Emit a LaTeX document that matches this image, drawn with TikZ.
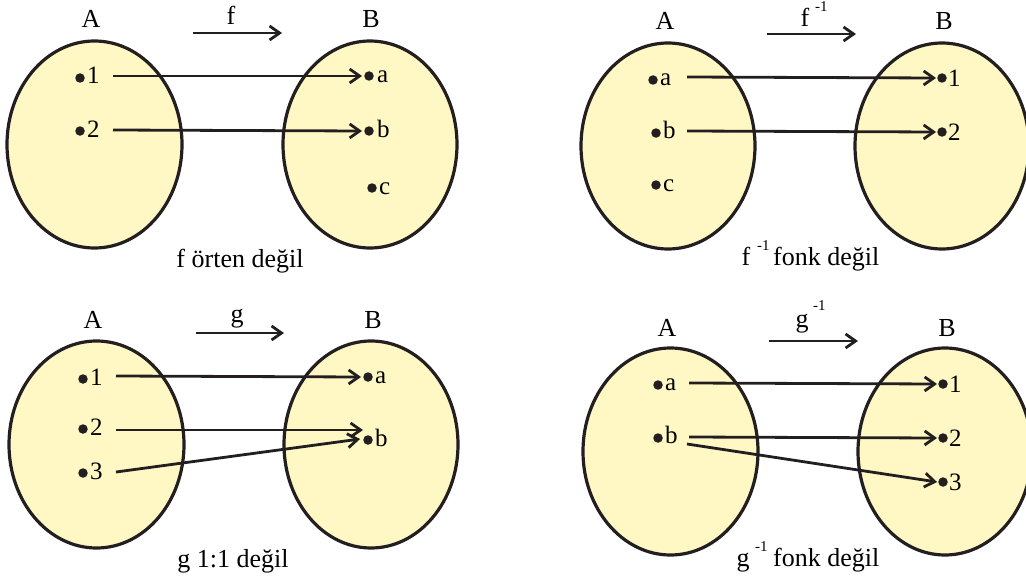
\documentclass[tikz,border=0pt]{standalone}
\usepackage{fontspec}
\setmainfont{Liberation Serif}
\usetikzlibrary{arrows.meta}
\definecolor{setfill}{RGB}{255,248,196}
\definecolor{ink}{RGB}{35,31,32}
\tikzset{
  setell/.style={draw=ink, line width=3.2pt, fill=setfill},
  pt/.style={circle, fill=ink, inner sep=0pt, minimum size=9.5pt},
  lbl/.style={anchor=base west, inner sep=1pt, font=\fontsize{25}{28}\selectfont},
  ttl/.style={inner sep=0pt, anchor=base, font=\fontsize{26}{30}\selectfont},
  sup/.style={inner sep=0pt, anchor=base west, font=\fontsize{15}{17}\selectfont},
  arr/.style={draw=ink, line width=2.8pt, -{Straight Barb[length=10pt,width=14pt,line width=2.8pt]}},
}
\begin{document}
\begin{tikzpicture}[x=1pt,y=-1pt]
\useasboundingbox (0,0) rectangle (1026,578);
% ---------- Panel 1 ----------
\draw[setell] (94.5,144.5) ellipse [x radius=87.5, y radius=103.5];
\draw[setell] (370,144.5) ellipse [x radius=87, y radius=103.5];
\node[ttl] (p1A) at (91,28) {A};
\node[ttl] (p1B) at (371,28) {B};
\node[ttl] (p1f) at (231,25) {f};
\coordinate (p1s) at (193,33);
\coordinate (p1e) at (282,33);
\draw[arr] (p1s) -- (p1e);
\node[pt] (p1d1) at (80,78) {};
\node[lbl] (p1l1) at (86,84) {1};
\node[pt] (p1d2) at (80,131) {};
\node[lbl] (p1l2) at (86,137) {2};
\node[pt] (p1da) at (369,76) {};
\node[lbl] (p1la) at (376,82) {a};
\node[pt] (p1db) at (369,131) {};
\node[lbl] (p1lb) at (376,137) {b};
\node[pt] (p1dc) at (372,188) {};
\node[lbl] (p1lc) at (378,194) {c};
\coordinate (p1o1) at (113,76);
\coordinate (p1o2) at (113,130);
\draw[arr] (p1o1) -- ([xshift=-2pt]p1da.west);
\draw[arr] (p1o2) -- ([xshift=-2pt]p1db.west);
\node[ttl] (p1cap) at (240,267) {f örten değil};
% ---------- Panel 2 ----------
\draw[setell] (668,146) ellipse [x radius=87, y radius=103];
\draw[setell] (942,146) ellipse [x radius=87, y radius=103];
\node[ttl] (p2A) at (665,30) {A};
\node[ttl] (p2B) at (944,30) {B};
\node[ttl] (p2f) at (805,27) {f};
\node[sup] (p2fs) at (815,12) {-1};
\coordinate (p2s) at (767,34);
\coordinate (p2e) at (856,34);
\draw[arr] (p2s) -- (p2e);
\node[pt] (p2da) at (653,80) {};
\node[lbl] (p2la) at (659,85) {a};
\node[pt] (p2db) at (656,133) {};
\node[lbl] (p2lb) at (662,139) {b};
\node[pt] (p2dc) at (656,185) {};
\node[lbl] (p2lc) at (662,191) {c};
\node[pt] (p2d1) at (942,78) {};
\node[lbl] (p2l1) at (947,86) {1};
\node[pt] (p2d2) at (942,132) {};
\node[lbl] (p2l2) at (947,140) {2};
\coordinate (p2oa) at (687,77);
\coordinate (p2ob) at (687,131);
\draw[arr] (p2oa) -- ([xshift=-1pt]p2d1.west);
\draw[arr] (p2ob) -- ([xshift=-1pt]p2d2.west);
\node[ttl] (p2capf) at (746,265) {f};
\node[sup] (p2caps) at (757,250) {-1};
\node[ttl, anchor=base west] (p2cap) at (773,265) {fonk değil};
% ---------- Panel 3 ----------
\draw[setell] (96.5,444.5) ellipse [x radius=87.5, y radius=103.5];
\draw[setell] (371,444.5) ellipse [x radius=87, y radius=103.5];
\node[ttl] (p3A) at (93,328) {A};
\node[ttl] (p3B) at (373,328) {B};
\node[ttl] (p3g) at (237,322) {g};
\coordinate (p3s) at (196,333);
\coordinate (p3e) at (284,333);
\draw[arr] (p3s) -- (p3e);
\node[pt] (p3d1) at (83,379) {};
\node[lbl] (p3l1) at (89,385) {1};
\node[pt] (p3d2) at (83,429) {};
\node[lbl] (p3l2) at (89,435) {2};
\node[pt] (p3d3) at (83,473) {};
\node[lbl] (p3l3) at (89,479) {3};
\node[pt] (p3da) at (368,377) {};
\node[lbl] (p3la) at (374,383) {a};
\node[pt] (p3db) at (368,440) {};
\node[lbl] (p3lb) at (374,446) {b};
\coordinate (p3o1) at (116,376);
\coordinate (p3o2) at (116,430);
\coordinate (p3o3) at (116,472);
\coordinate (p3bt) at (363,430);
\draw[arr] (p3o1) -- ([xshift=-2pt]p3da.west);
\draw[arr] (p3o2) -- (p3bt);
\draw[arr] (p3o3) -- ([xshift=-3pt,yshift=1pt]p3db.west);
\node[ttl] (p3cap) at (233,567) {g 1:1 değil};
% ---------- Panel 4 ----------
\draw[setell] (670.5,451.5) ellipse [x radius=87.5, y radius=103.5];
\draw[setell] (945,451.5) ellipse [x radius=87, y radius=103.5];
\node[ttl] (p4A) at (667,336) {A};
\node[ttl] (p4B) at (947,336) {B};
\node[ttl] (p4g) at (802,327) {g};
\node[sup] (p4gs) at (813,310) {-1};
\coordinate (p4s) at (769,341);
\coordinate (p4e) at (858,341);
\draw[arr] (p4s) -- (p4e);
\node[pt] (p4da) at (658,385) {};
\node[lbl] (p4la) at (664,390) {a};
\node[pt] (p4db) at (658,438) {};
\node[lbl] (p4lb) at (664,443) {b};
\node[pt] (p4d1) at (943,384) {};
\node[lbl] (p4l1) at (948,392) {1};
\node[pt] (p4d2) at (943,438) {};
\node[lbl] (p4l2) at (948,446) {2};
\node[pt] (p4d3) at (943,482) {};
\node[lbl] (p4l3) at (948,490) {3};
\coordinate (p4oa) at (689,383);
\coordinate (p4ob) at (689,437);
\coordinate (p4oc) at (687,444);
\draw[arr] (p4oa) -- ([xshift=-1pt]p4d1.west);
\draw[arr] (p4ob) -- ([xshift=-1pt]p4d2.west);
\draw[arr] (p4oc) -- ([xshift=-1pt]p4d3.west);
\node[ttl] (p4capg) at (743,566) {g};
\node[sup] (p4caps) at (755,551) {-1};
\node[ttl, anchor=base west] (p4cap) at (773,566) {fonk değil};
\end{tikzpicture}
\end{document}
